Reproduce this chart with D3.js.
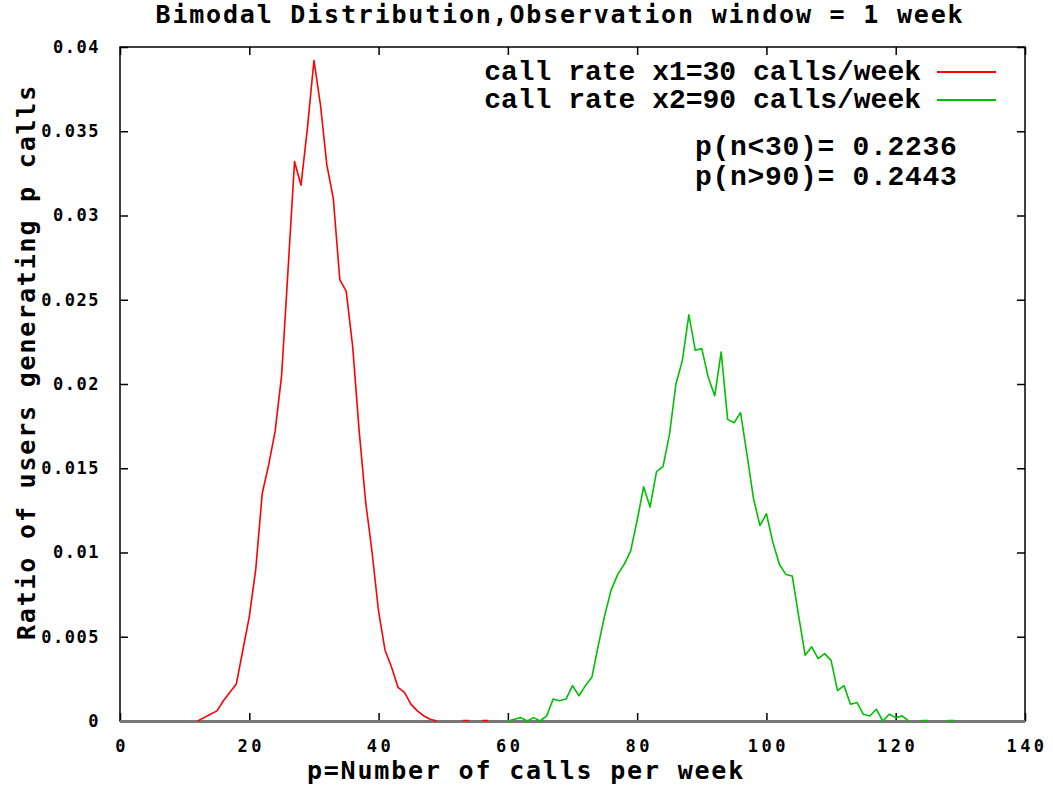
<!DOCTYPE html>
<html>
<head>
<meta charset="utf-8">
<script src="https://cdn.jsdelivr.net/npm/d3@7"></script>
<style>
  body { margin: 0; background: #fff; }
  .pix { font-family: "DejaVu Sans Mono", monospace; font-weight: bold; }
  .key { font-family: "Liberation Mono", "Courier New", monospace; font-weight: bold; }
</style>
</head>
<body>
<div id="chart"></div>
<script>
// data
var redX = [12, 13, 14, 15, 16, 17, 18, 19, 20, 21, 22, 23, 24, 25, 26, 27, 28, 29, 30,
            31, 32, 33, 34, 35, 36, 37, 38, 39, 40, 41, 42, 43, 44, 45, 46, 47, 48, 49,
            50, 51, 52, 53, 54, 55, 56, 57];
var redY = [0, 0.0002, 0.0004, 0.0006, 0.0012, 0.0017, 0.0022, 0.0042, 0.0062, 0.0090,
            0.0135, 0.0152, 0.0172, 0.0205, 0.0268, 0.0332, 0.0318, 0.0352, 0.0392,
            0.0366, 0.0330, 0.0310, 0.0262, 0.0255, 0.0222, 0.0172, 0.0130, 0.0100,
            0.0065, 0.0042, 0.0032, 0.0020, 0.0017, 0.0010, 0.0006, 0.0003, 0.0001, 0,
            null, null, null, 0.00003, 0.00003, null, 0.00003, 0.00003];

var greenX = [60, 61, 62, 63, 64, 65, 66, 67, 68, 69, 70, 71, 72, 73, 74, 75, 76, 77, 78, 79,
              80, 81, 82, 83, 84, 85, 86, 87, 88, 89, 90, 91, 92, 93, 94, 95, 96, 97, 98, 99,
              100, 101, 102, 103, 104, 105, 106, 107, 108, 109, 110, 111, 112, 113, 114, 115,
              116, 117, 118, 119, 120, 121, 122, 123, 124, 125, 126, 127, 128, 129];
var greenY = [0, 0.0001, 0.0002, 0, 0.0002, 0, 0.0003, 0.0013, 0.0012, 0.0013, 0.0021,
              0.0015, 0.0021, 0.0026, 0.0045, 0.0063, 0.0078, 0.0087, 0.0093, 0.0101,
              0.0119, 0.0139, 0.0127, 0.0148, 0.0151, 0.0170, 0.0200, 0.0214, 0.0241,
              0.0220, 0.0221, 0.0204, 0.0193, 0.0219, 0.0179, 0.0177, 0.0183, 0.0158,
              0.0132, 0.0116, 0.0123, 0.0106, 0.0093, 0.0087, 0.0086, 0.0062, 0.0039,
              0.0044, 0.0037, 0.0040, 0.0036, 0.0018, 0.0021, 0.0010, 0.0011, 0.0004,
              0.0003, 0.0007, 0, 0.0004, 0.0002, 0.0003, 0,
              null, 0.00003, 0.00003, null, null, 0.00003, 0.00003];

var xTicks = [0, 20, 40, 60, 80, 100, 120, 140];
var yTicks = [0, 0.005, 0.01, 0.015, 0.02, 0.025, 0.03, 0.035, 0.04];

var legendLabels = ["call rate x1=30 calls/week", "call rate x2=90 calls/week"];
var legendColors = ["#ff0000", "#00c000"];
var notes = ["p(n<30)= 0.2236", "p(n>90)= 0.2443"];

var titleText = "Bimodal Distribution,Observation window = 1 week",
    xLabel = "p=Number of calls per week",
    yLabel = "Ratio of users generating p calls";

var margin = {top: 47, right: 28, bottom: 66, left: 120},
    width = 1053 - margin.left - margin.right,
    height = 787 - margin.top - margin.bottom;

var svg = d3.select("#chart")
            .append("svg")
              .attr("width", width + margin.left + margin.right)
              .attr("height", height + margin.top + margin.bottom);

svg.append("rect")
    .attr("width", 1053)
    .attr("height", 787)
    .attr("fill", "#fff");

var chart = svg.append("g")
               .attr("transform", "translate(" + margin.left + "," + margin.top + ")");

// scales
var xScale = d3.scaleLinear()
                .domain([0, 140])
                .range([0, width]);

var yScale = d3.scaleLinear()
                .domain([0, 0.04])
                .range([height, 0]);

// axes, gnuplot style: ticks pointing in, mirrored
var tickLen = 8;

function yFormat(d) {
  return d === 0 ? "0" : String(+d.toFixed(3));
}

chart.append("g")
      .attr("class", "axis")
      .call(d3.axisLeft(yScale).tickValues(yTicks).tickSize(-tickLen).tickPadding(tickLen + 12).tickFormat(yFormat));

chart.append("g")
      .attr("class", "axis")
      .attr("transform", "translate(" + width + ",0)")
      .call(d3.axisRight(yScale).tickValues(yTicks).tickSize(-tickLen).tickFormat(""));

chart.append("g")
      .attr("class", "axis axis-x")
      .attr("transform", "translate(0," + height + ")")
      .call(d3.axisBottom(xScale).tickValues(xTicks).tickSize(-tickLen).tickPadding(19));

chart.append("g")
      .attr("class", "axis")
      .call(d3.axisTop(xScale).tickValues(xTicks).tickSize(-tickLen).tickFormat(""));

chart.selectAll(".axis .domain").remove();
chart.selectAll(".axis line")
      .attr("stroke", "#000")
      .attr("stroke-width", 1.5);
chart.selectAll(".axis text")
      .attr("class", "pix")
      .attr("fill", "#000")
      .attr("font-size", 17)
      .attr("letter-spacing", 1.5);

// x labels are spaced a bit wider
chart.selectAll(".axis-x text")
      .attr("letter-spacing", 3.5)
      .attr("dx", 1.5);

// border
chart.append("rect")
      .attr("width", width)
      .attr("height", height)
      .attr("fill", "none")
      .attr("stroke", "#000")
      .attr("stroke-width", 1.5);

chart.append("line")
      .attr("x1", 0)
      .attr("x2", width)
      .attr("y1", yScale(0) + 0.5)
      .attr("y2", yScale(0) + 0.5)
      .attr("stroke", "#777")
      .attr("stroke-width", 3);

// curves
var line = d3.line()
              .defined(function(d) { return d.y !== null; })
              .x(function(d) { return xScale(d.x); })
              .y(function(d) { return yScale(d.y); });

var series = [
  redX.map(function(x, i) { return {x: x, y: redY[i]}; }),
  greenX.map(function(x, i) { return {x: x, y: greenY[i]}; })
];

chart.selectAll(".curve")
  .data(series)
.enter().append("path")
  .attr("class", "curve")
  .attr("fill", "none")
  .attr("stroke", function(d, i) { return legendColors[i]; })
  .attr("stroke-width", 1.6)
  .attr("stroke-linejoin", "round")
  .attr("d", line);

// legend
var legend = svg.append("g");
legendLabels.forEach(function(label, i) {
  var y = 72 + i * 28;
  legend.append("text")
        .attr("class", "key")
        .attr("x", 921)
        .attr("y", y + 8)
        .attr("text-anchor", "end")
        .attr("font-size", 28)
        .text(label);
  legend.append("line")
        .attr("x1", 937)
        .attr("x2", 996)
        .attr("y1", y)
        .attr("y2", y)
        .attr("stroke", legendColors[i])
        .attr("stroke-width", 2);
});

// probabilities
notes.forEach(function(note, i) {
  svg.append("text")
      .attr("class", "key")
      .attr("x", 695)
      .attr("y", 155 + i * 30)
      .attr("font-size", 28)
      .attr("letter-spacing", 0.7)
      .text(note);
});

// title and axis labels
svg.append("text")
    .attr("class", "pix")
    .attr("x", 560)
    .attr("y", 23)
    .attr("text-anchor", "middle")
    .attr("font-size", 25)
    .attr("letter-spacing", 1.8)
    .text(titleText);

svg.append("text")
    .attr("class", "pix")
    .attr("x", 526)
    .attr("y", 779)
    .attr("text-anchor", "middle")
    .attr("font-size", 25)
    .attr("letter-spacing", 1.8)
    .text(xLabel);

svg.append("text")
    .attr("class", "pix")
    .attr("transform", "translate(35," + 362 + ") rotate(-90)")
    .attr("text-anchor", "middle")
    .attr("font-size", 25)
    .attr("letter-spacing", 1.8)
    .text(yLabel);
</script>
</body>
</html>
